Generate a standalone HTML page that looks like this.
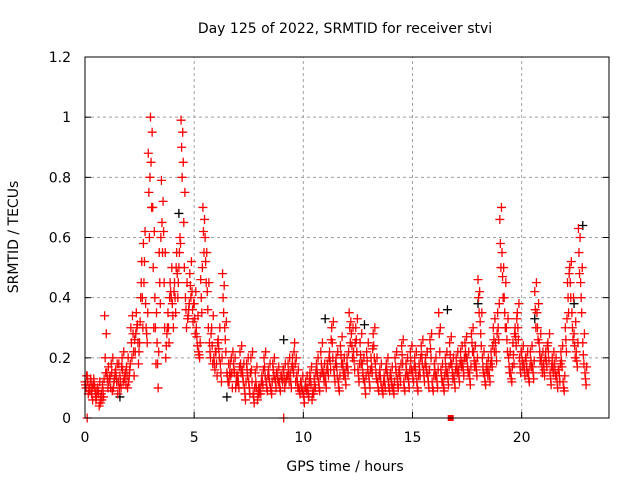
<!DOCTYPE html>
<html><head><meta charset="utf-8"><style>
html,body{margin:0;padding:0;background:#fff}
svg{display:block;font-family:"DejaVu Sans","Liberation Sans",sans-serif}
</style></head><body>
<svg id="chart" width="640" height="480">
<rect width="640" height="480" fill="#fff"/>
<g id="grid"></g>
<g id="pts"></g>
<g id="axes"></g>
<text x="345" y="33" font-size="14" text-anchor="middle">Day 125 of 2022, SRMTID for receiver stvi</text>
<text x="345" y="471" font-size="14" text-anchor="middle">GPS time / hours</text>
<text x="0" y="0" font-size="14" text-anchor="middle" transform="translate(18,237) rotate(-90)">SRMTID / TECUs</text>
</svg>
<script>
const xTicks=[0,5,10,15,20];
const yTicks=[0,0.2,0.4,0.6,0.8,1,1.2];
const yTickLabels=["0","0.2","0.4","0.6","0.8","1","1.2"];
const step=0.1;
const redA=[0.12,0.14,0.10,0.08,0.13,0.06,0.09,0.05,0.11,0.34,
0.15,0.12,0.18,0.10,0.16,0.08,0.14,0.20,0.13,0.17,
0.12,0.30,0.28,0.22,0.31,0.25,0.52,0.45,0.30,0.88,
1.00,0.70,0.40,0.25,0.55,0.79,0.62,0.20,0.35,0.45,
0.38,0.45,0.55,0.50,0.99,0.85,0.40,0.33,0.48,0.42,
0.38,0.30,0.22,0.46,0.70,0.60,0.42,0.25,0.30,0.20,
0.22,0.26,0.18,0.48,0.30,0.15,0.12,0.20,0.18,0.10,
0.14,0.22,0.16,0.10,0.18,0.12,0.20,0.08,0.15,0.06,
0.10,0.14,0.20,0.12,0.16,0.10,0.18,0.13,0.15,0.12,
0.14,0.16,0.12,0.18,0.15,0.20,0.25,0.14,0.10,0.12,
0.08,0.12,0.10,0.15,0.06,0.13,0.18,0.12,0.22,0.16,
0.14,0.18,0.22,0.30,0.16,0.20,0.12,0.24,0.18,0.15,
0.20,0.35,0.28,0.22,0.30,0.16,0.25,0.18,0.12,0.22,
0.14,0.20,0.28,0.18,0.12,0.16,0.10,0.14,0.18,0.12,
0.15,0.10,0.20,0.13,0.16,0.24,0.12,0.18,0.14,0.22,
0.15,0.20,0.12,0.18,0.24,0.16,0.20,0.14,0.26,0.12,
0.18,0.14,0.35,0.16,0.12,0.20,0.15,0.25,0.18,0.14,
0.20,0.16,0.22,0.18,0.25,0.20,0.15,0.28,0.22,0.18,
0.46,0.32,0.20,0.14,0.18,0.16,0.22,0.30,0.25,0.35,
0.66,0.55,0.40,0.30,0.20,0.15,0.25,0.30,0.35,0.20,
0.22,0.18,0.20,0.15,0.22,0.17,0.42,0.35,0.25,0.20,
0.18,0.22,0.25,0.15,0.20,0.18,0.14,0.16,0.22,0.12,
0.30,0.45,0.50,0.35,0.28,0.22,0.63,0.45,0.25,0.15];
const redB=[0.10,0.08,0.13,0.06,0.10,0.09,0.04,0.08,0.07,0.15,
0.10,0.14,0.09,0.13,0.12,0.18,0.10,0.12,0.15,0.10,
0.16,0.20,0.14,0.35,0.18,0.40,0.30,0.62,0.25,0.60,
0.70,0.30,0.18,0.10,0.38,0.55,0.30,0.28,0.25,0.40,
0.30,0.35,0.40,0.60,0.80,0.50,0.30,0.36,0.40,0.32,
0.28,0.24,0.20,0.35,0.55,0.45,0.30,0.20,0.18,0.16,
0.14,0.20,0.12,0.35,0.22,0.12,0.18,0.10,0.15,0.14,
0.10,0.15,0.12,0.06,0.14,0.08,0.12,0.05,0.10,0.10,
0.08,0.11,0.14,0.09,0.12,0.08,0.14,0.10,0.12,0.09,
0.12,0.10,0.14,0.12,0.10,0.15,0.12,0.10,0.08,0.09,
0.05,0.09,0.07,0.11,0.09,0.10,0.14,0.09,0.15,0.12,
0.10,0.14,0.16,0.20,0.12,0.14,0.09,0.18,0.14,0.11,
0.15,0.25,0.20,0.16,0.22,0.12,0.18,0.13,0.08,0.16,
0.10,0.15,0.20,0.13,0.09,0.12,0.08,0.10,0.14,0.09,
0.11,0.08,0.15,0.10,0.12,0.18,0.09,0.14,0.10,0.16,
0.12,0.15,0.09,0.14,0.18,0.12,0.15,0.10,0.20,0.09,
0.14,0.10,0.22,0.12,0.09,0.15,0.11,0.18,0.13,0.10,
0.15,0.12,0.17,0.14,0.20,0.15,0.11,0.22,0.17,0.14,
0.35,0.24,0.15,0.11,0.14,0.12,0.17,0.22,0.19,0.26,
0.50,0.40,0.30,0.22,0.15,0.12,0.18,0.24,0.26,0.15,
0.17,0.14,0.15,0.12,0.17,0.13,0.30,0.26,0.19,0.15,
0.14,0.17,0.19,0.11,0.15,0.14,0.10,0.12,0.17,0.09,
0.22,0.35,0.40,0.26,0.20,0.17,0.48,0.35,0.18,0.11];
const redC=[0.11,0.12,0.09,0.10,0.11,0.07,0.08,0.07,0.09,0.20,
0.13,0.13,0.15,0.12,0.14,0.12,0.12,0.16,0.14,0.14,
0.14,0.25,0.22,0.28,0.25,0.32,0.40,0.52,0.28,0.75,
0.85,0.50,0.30,0.18,0.45,0.65,0.45,0.24,0.30,0.42,
0.34,0.40,0.48,0.55,0.90,0.65,0.36,0.34,0.44,0.36,
0.33,0.27,0.21,0.40,0.62,0.52,0.36,0.22,0.24,0.18,
0.18,0.23,0.15,0.40,0.26,0.14,0.15,0.15,0.16,0.12,
0.12,0.18,0.14,0.08,0.16,0.10,0.16,0.07,0.12,0.08,
0.09,0.12,0.17,0.10,0.14,0.09,0.16,0.12,0.13,0.10,
0.13,0.13,0.13,0.15,0.12,0.17,0.18,0.12,0.09,0.10,
0.07,0.10,0.08,0.13,0.08,0.11,0.16,0.10,0.18,0.14,
0.12,0.16,0.19,0.25,0.14,0.17,0.10,0.21,0.16,0.13,
0.17,0.30,0.24,0.19,0.26,0.14,0.21,0.15,0.10,0.19,
0.12,0.17,0.24,0.15,0.10,0.14,0.09,0.12,0.16,0.10,
0.13,0.09,0.17,0.11,0.14,0.21,0.10,0.16,0.12,0.19,
0.13,0.17,0.10,0.16,0.21,0.14,0.17,0.12,0.23,0.10,
0.16,0.12,0.28,0.14,0.10,0.17,0.13,0.21,0.15,0.12,
0.17,0.14,0.19,0.16,0.22,0.17,0.13,0.25,0.19,0.16,
0.40,0.28,0.17,0.12,0.16,0.14,0.19,0.26,0.22,0.30,
0.58,0.47,0.35,0.26,0.17,0.13,0.21,0.27,0.30,0.17,
0.19,0.16,0.17,0.13,0.19,0.15,0.36,0.30,0.22,0.17,
0.16,0.19,0.22,0.13,0.17,0.16,0.12,0.14,0.19,0.10,
0.26,0.40,0.45,0.30,0.24,0.19,0.55,0.40,0.21,0.13];
const redD=[0.14,0.09,0.12,0.11,0.08,0.10,0.12,0.06,0.13,0.28,
0.17,0.10,0.20,0.15,0.18,0.10,0.17,0.22,0.11,0.20,
0.18,0.34,0.26,0.30,0.22,0.45,0.58,0.38,0.35,0.80,
0.95,0.62,0.35,0.22,0.60,0.72,0.55,0.30,0.40,0.50,
0.42,0.50,0.45,0.58,0.95,0.75,0.45,0.38,0.52,0.38,
0.42,0.34,0.25,0.50,0.66,0.55,0.45,0.28,0.34,0.22,
0.25,0.30,0.20,0.44,0.32,0.18,0.14,0.22,0.20,0.12,
0.17,0.24,0.18,0.12,0.20,0.15,0.22,0.10,0.17,0.08,
0.12,0.16,0.22,0.14,0.18,0.12,0.20,0.15,0.17,0.14,
0.16,0.18,0.14,0.20,0.17,0.22,0.20,0.16,0.12,0.14,
0.10,0.14,0.12,0.17,0.08,0.15,0.20,0.14,0.25,0.18,
0.16,0.20,0.26,0.32,0.18,0.22,0.14,0.27,0.20,0.17,
0.22,0.32,0.30,0.25,0.33,0.18,0.28,0.20,0.14,0.25,
0.16,0.23,0.30,0.20,0.14,0.18,0.12,0.16,0.20,0.14,
0.17,0.12,0.22,0.15,0.18,0.26,0.14,0.20,0.16,0.24,
0.17,0.22,0.14,0.20,0.26,0.18,0.22,0.16,0.28,0.14,
0.20,0.16,0.30,0.18,0.14,0.22,0.17,0.27,0.20,0.16,
0.22,0.18,0.24,0.20,0.27,0.22,0.17,0.30,0.24,0.20,
0.42,0.35,0.22,0.16,0.20,0.18,0.24,0.33,0.28,0.38,
0.70,0.50,0.45,0.33,0.22,0.17,0.28,0.33,0.38,0.22,
0.24,0.20,0.22,0.17,0.24,0.19,0.45,0.38,0.28,0.22,
0.20,0.24,0.28,0.17,0.22,0.20,0.16,0.18,0.24,0.14,
0.33,0.48,0.52,0.40,0.32,0.25,0.60,0.50,0.28,0.17];
const blackT=[1.6,4.3,6.5,9.1,11.0,12.8,16.6,18.0,20.6,22.4,22.8];
const blackV=[0.07,0.68,0.07,0.26,0.33,0.31,0.36,0.38,0.33,0.38,0.64];
const zeroT=[0.1,9.1];

const X0=85,X1=609,Y0=418,Y1=57;
const sx=t=>X0+t*(X1-X0)/24;
const sy=v=>Y0-v*(Y0-Y1)/1.2;
const NS="http://www.w3.org/2000/svg";
function mk(tag,attrs,parent){const e=document.createElementNS(NS,tag);for(const k in attrs)e.setAttribute(k,attrs[k]);parent.appendChild(e);return e;}
const grid=document.getElementById('grid'),axes=document.getElementById('axes'),pts=document.getElementById('pts');
xTicks.forEach(t=>{
  if(t>0){const g=mk('line',{x1:sx(t),x2:sx(t),y1:Y0,y2:Y1,stroke:'#a0a0a0','stroke-dasharray':'3,3'},grid);
  
  }
  const tk=mk('line',{x1:sx(t),x2:sx(t),y1:Y0,y2:Y0-6,stroke:'#000'},axes);
  
  
  const tx=mk('text',{x:sx(t),y:Y0+24,'font-size':14,'text-anchor':'middle'},axes);tx.textContent=String(t);
  
  
});
yTicks.forEach((v,i)=>{
  if(v>0&&v<1.2){const g=mk('line',{x1:X0,x2:X1,y1:sy(v),y2:sy(v),stroke:'#a0a0a0','stroke-dasharray':'3,3'},grid);
  
  }
  const tk=mk('line',{x1:X0,x2:X0+6,y1:sy(v),y2:sy(v),stroke:'#000'},axes);
  
  
  const tk2=mk('line',{x1:X1,x2:X1-6,y1:sy(v),y2:sy(v),stroke:'#000'},axes);
  
  
  const tx=mk('text',{x:X0-14,y:sy(v)+5,'font-size':14,'text-anchor':'end'},axes);tx.textContent=yTickLabels[i];
  
  
});
const frame=mk('rect',{x:X0,y:Y1,width:X1-X0,height:Y0-Y1,fill:'none',stroke:'#000','stroke-width':1},axes);


function plus(t,v,col){
  const x=sx(t),y=sy(v);
  const p=mk('path',{d:`M${x-4.5},${y}H${x+4.5}M${x},${y-4.5}V${y+4.5}`,stroke:col,'stroke-width':1.3,fill:'none'},pts);
  
  
}
blackT.forEach((t,i)=>plus(t,blackV[i],'#000'));
redA.forEach((v,i)=>plus(i*step,v,'#f00'));
redC.forEach((v,i)=>plus(i*step+0.025,v,'#f00'));
redB.forEach((v,i)=>plus(i*step+0.05,v,'#f00'));
redD.forEach((v,i)=>plus(i*step+0.075,v,'#f00'));
zeroT.forEach(t=>plus(t,0,'#f00'));
const sq=mk('rect',{x:sx(16.75)-3,y:Y0-3,width:6,height:6,fill:'#f00'},pts);


</script>
</body></html>
